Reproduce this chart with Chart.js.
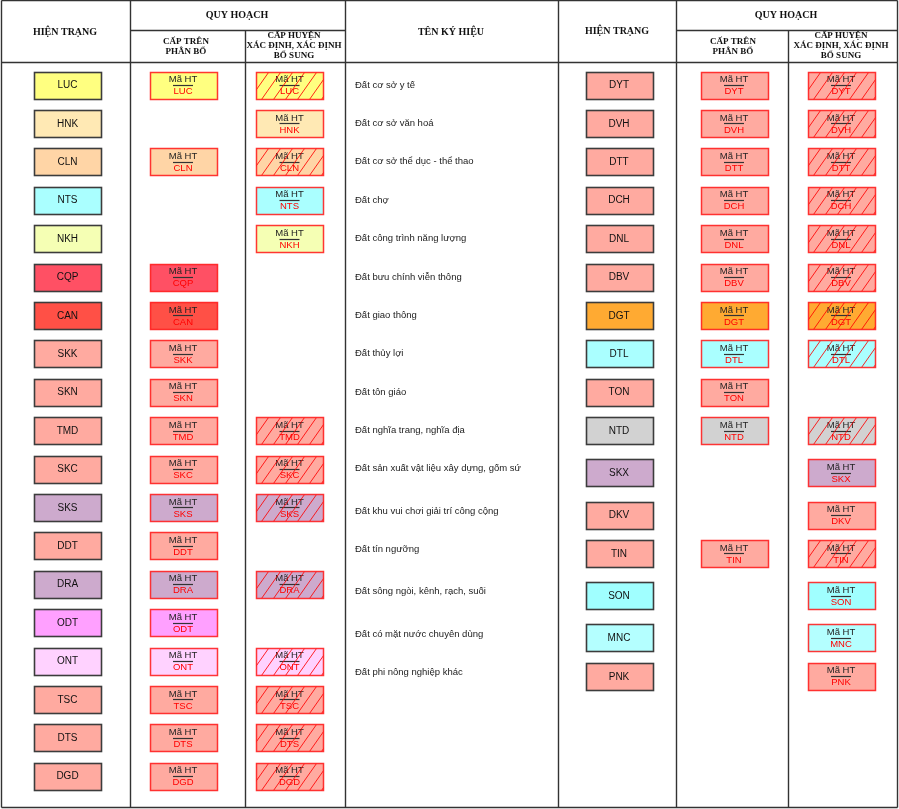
<!DOCTYPE html>
<html lang="vi">
<head>
<meta charset="utf-8">
<title>Chú dẫn ký hiệu</title>
<script src="https://cdn.jsdelivr.net/npm/chart.js@4.4.1/dist/chart.umd.min.js"></script>
<style>
    html, body { margin: 0; padding: 0; background: #fff; }
    #wrap { position: relative; width: 899px; height: 809px; }
</style>
</head>
<body>
<div id="wrap"><canvas id="legendChart"></canvas></div>
<script>
// Left half: hiện trạng codes and their fill colours
const leftCodes = ['LUC', 'HNK', 'CLN', 'NTS', 'NKH', 'CQP', 'CAN', 'SKK', 'SKN', 'TMD',
    'SKC', 'SKS', 'DDT', 'DRA', 'ODT', 'ONT', 'TSC', 'DTS', 'DGD'];
const leftColors = ['#ffff80', '#ffe9b4', '#ffd5a6', '#aaffff', '#f5ffb4', '#ff5064', '#ff5046', '#ffaaa0', '#ffaaa0', '#ffaaa0',
    '#ffaaa0', '#cdaacd', '#ffaaa0', '#cdaacd', '#ffa0ff', '#ffd2ff', '#ffaaa0', '#ffaaa0', '#ffaaa0'];
// 1 = has a "cấp trên phân bổ" box
const leftTren = [1, 0, 1, 0, 0, 1, 1, 1, 1, 1, 1, 1, 1, 1, 1, 1, 1, 1, 1];
// 0 = nothing, 1 = plain box, 2 = hatched box ("cấp huyện xác định")
const leftHuyen = [2, 1, 2, 1, 1, 0, 0, 0, 0, 2, 2, 2, 0, 2, 0, 2, 2, 2, 2];

// Right half
const rightNames = ['Đất cơ sở y tế', 'Đất cơ sở văn hoá', 'Đất cơ sở thể dục - thể thao', 'Đất chợ',
    'Đất công trình năng lượng', 'Đất bưu chính viễn thông', 'Đất giao thông', 'Đất thủy lợi', 'Đất tôn giáo',
    'Đất nghĩa trang, nghĩa địa', 'Đất sản xuất vật liệu xây dựng, gốm sứ', 'Đất khu vui chơi giải trí công cộng',
    'Đất tín ngưỡng', 'Đất sông ngòi, kênh, rạch, suối', 'Đất có mặt nước chuyên dùng', 'Đất phi nông nghiệp khác'];
const rightCodes = ['DYT', 'DVH', 'DTT', 'DCH', 'DNL', 'DBV', 'DGT', 'DTL', 'TON', 'NTD',
    'SKX', 'DKV', 'TIN', 'SON', 'MNC', 'PNK'];
const rightColors = ['#ffaaa0', '#ffaaa0', '#ffaaa0', '#ffaaa0', '#ffaaa0', '#ffaaa0', '#ffaa32', '#aaffff', '#ffaaa0', '#d2d2d2',
    '#cdaacd', '#ffaaa0', '#ffaaa0', '#a0ffff', '#b4ffff', '#ffaaa0'];
const rightTren = [1, 1, 1, 1, 1, 1, 1, 1, 1, 1, 0, 0, 1, 0, 0, 0];
const rightHuyen = [2, 2, 2, 2, 2, 2, 2, 2, 0, 2, 1, 1, 2, 1, 1, 1];
// row slot of each right-hand entry (lower rows sit a bit further apart)
const rightRows = [0, 1, 2, 3, 4, 5, 6, 7, 8, 9, 10.1, 11.2, 12.2, 13.3, 14.4, 15.4];

// Layout (table units = px of the 899x809 sheet)
const COL = { lHT: 67.5, lTren: 183, lHuyen: 289.5, label: 355, rHT: 619, rTren: 734, rHuyen: 841 };
const ROW0 = 85, ROW_STEP = 38.4;
const Y_MIN = -ROW0 / ROW_STEP;
const Y_MAX = Y_MIN + 809 / ROW_STEP;
const BOX_W = 67, BOX_H = 27;
const HATCH_GAP = 12, HATCH_RUN = 19;

const SANS = '"Liberation Sans", Arial, sans-serif';
const SERIF = '"Liberation Serif", "Times New Roman", serif';

function points(codes, colors, rows, colX, keep, kind) {
    const out = [];
    codes.forEach((code, i) => {
        const flag = keep ? keep[i] : 1;
        if (!flag) return;
        out.push({ x: colX, y: rows ? rows[i] : i, code: code, color: colors[i], kind: kind, hatch: flag === 2 });
    });
    return out;
}

const leftRows = leftCodes.map((c, i) => i);

const datasets = [
    { label: 'leftHT', data: points(leftCodes, leftColors, leftRows, COL.lHT, null, 'ht') },
    { label: 'leftTren', data: points(leftCodes, leftColors, leftRows, COL.lTren, leftTren, 'qh') },
    { label: 'leftHuyen', data: points(leftCodes, leftColors, leftRows, COL.lHuyen, leftHuyen, 'qh') },
    { label: 'rightHT', data: points(rightCodes, rightColors, rightRows, COL.rHT, null, 'ht') },
    { label: 'rightTren', data: points(rightCodes, rightColors, rightRows, COL.rTren, rightTren, 'qh') },
    { label: 'rightHuyen', data: points(rightCodes, rightColors, rightRows, COL.rHuyen, rightHuyen, 'qh') },
    { label: 'names', data: rightNames.map((n, i) => ({ x: COL.label, y: rightRows[i], name: n, kind: 'name' })) }
];
datasets.forEach(ds => { ds.pointRadius = 0; ds.pointHoverRadius = 0; });

function drawBox(c, cx, cy, d) {
    const x = Math.round(cx - BOX_W / 2) + 0.5;
    const y = Math.round(cy - BOX_H / 2) + 0.5;
    c.fillStyle = d.color;
    c.fillRect(x, y, BOX_W, BOX_H);
    c.textAlign = 'center';
    c.textBaseline = 'middle';
    if (d.kind === 'ht') {
        c.strokeStyle = '#3c3c3c';
        c.lineWidth = 1.6;
        c.strokeRect(x, y, BOX_W, BOX_H);
        c.fillStyle = '#111';
        c.font = '10px ' + SANS;
        c.fillText(d.code, cx, cy + 0.5);
        return;
    }
    c.font = '9.5px ' + SANS;
    c.fillStyle = '#222';
    c.fillText('Mã HT', cx, cy - 5.5);
    c.strokeStyle = '#333';
    c.lineWidth = 1.2;
    c.beginPath();
    c.moveTo(cx - 10, Math.round(cy) + 0.5);
    c.lineTo(cx + 10, Math.round(cy) + 0.5);
    c.stroke();
    c.fillStyle = '#f00';
    c.fillText(d.code, cx, cy + 6.5);
    if (d.hatch) {
        c.save();
        c.beginPath();
        c.rect(x, y, BOX_W, BOX_H);
        c.clip();
        c.strokeStyle = 'rgba(255,0,0,0.85)';
        c.lineWidth = 1;
        c.beginPath();
        for (let k = -HATCH_RUN; k < BOX_W + HATCH_RUN; k += HATCH_GAP) {
            c.moveTo(x + k, y + BOX_H);
            c.lineTo(x + k + HATCH_RUN, y);
        }
        c.stroke();
        c.restore();
    }
    c.strokeStyle = 'rgba(255,20,20,0.85)';
    c.lineWidth = 1.5;
    c.strokeRect(x, y, BOX_W, BOX_H);
}

// Grid lines and headers of the legend table
const tablePlugin = {
    id: 'legendTable',
    beforeDraw(chart) {
        const c = chart.ctx;
        c.save();
        c.fillStyle = '#fff';
        c.fillRect(0, 0, chart.width, chart.height);
        c.restore();
    },
    afterDatasetsDraw(chart) {
        const c = chart.ctx;
        const sx = chart.scales.x, st = chart.scales.yt;
        const X = v => Math.round(sx.getPixelForValue(v)) + 0.5;
        const Y = v => Math.round(st.getPixelForValue(v)) + 0.5;
        c.save();
        c.strokeStyle = '#333';
        c.lineWidth = 1.4;
        const line = (x1, y1, x2, y2) => {
            c.beginPath();
            c.moveTo(X(x1), Y(y1));
            c.lineTo(X(x2), Y(y2));
            c.stroke();
        };
        // outer frame and main rules
        line(1, 0.5, 897, 0.5);
        line(1, 62, 897, 62);
        line(1, 807, 897, 807);
        [1, 130, 345, 558, 676, 897].forEach(v => line(v, 0, v, 807));
        line(130, 30, 345, 30);
        line(676, 30, 897, 30);
        line(245, 30, 245, 807);
        line(788, 30, 788, 807);

        // header text
        c.fillStyle = '#111';
        c.textAlign = 'center';
        c.textBaseline = 'middle';
        c.font = 'bold 10px ' + SERIF;
        const txt = (s, x, y) => c.fillText(s, sx.getPixelForValue(x), st.getPixelForValue(y));
        txt('HIỆN TRẠNG', 65, 32);
        txt('QUY HOẠCH', 237, 15);
        txt('TÊN KÝ HIỆU', 451, 32);
        txt('HIỆN TRẠNG', 617, 31);
        txt('QUY HOẠCH', 786, 15);
        c.font = 'bold 9px ' + SERIF;
        txt('CẤP TRÊN', 186, 41.5);
        txt('PHÂN BỔ', 186, 51.5);
        txt('CẤP HUYỆN', 294, 35.5);
        txt('XÁC ĐỊNH, XÁC ĐỊNH', 294, 45.5);
        txt('BỔ SUNG', 294, 55.5);
        txt('CẤP TRÊN', 733, 42);
        txt('PHÂN BỔ', 733, 52);
        txt('CẤP HUYỆN', 841, 35.5);
        txt('XÁC ĐỊNH, XÁC ĐỊNH', 841, 45.5);
        txt('BỔ SUNG', 841, 55.5);

        // boxes and names at the positions the scales give the points
        chart.data.datasets.forEach((ds, i) => {
            const meta = chart.getDatasetMeta(i);
            meta.data.forEach((pt, j) => {
                const d = ds.data[j];
                if (d.kind === 'name') {
                    c.fillStyle = '#222';
                    c.font = '9.5px ' + SANS;
                    c.textAlign = 'left';
                    c.textBaseline = 'middle';
                    c.fillText(d.name, pt.x, pt.y - (d.y >= 10 ? 4 : 0));
                } else {
                    drawBox(c, pt.x, pt.y, d);
                }
            });
        });
        c.restore();
    }
};

document.addEventListener('DOMContentLoaded', function() {
    const ctx = document.getElementById('legendChart').getContext('2d');
    new Chart(ctx, {
        type: 'scatter',
        data: { datasets: datasets },
        options: {
            responsive: true,
            maintainAspectRatio: false,
            animation: false,
            events: [],
            layout: { padding: 0 },
            plugins: { legend: { display: false }, tooltip: { enabled: false } },
            scales: {
                x: { type: 'linear', min: 0, max: 899, display: false },
                y: { type: 'linear', min: Y_MIN, max: Y_MAX, reverse: true, display: false },
                yt: { type: 'linear', min: 0, max: 809, reverse: true, display: false }
            }
        },
        plugins: [tablePlugin]
    });
});
</script>
</body>
</html>
